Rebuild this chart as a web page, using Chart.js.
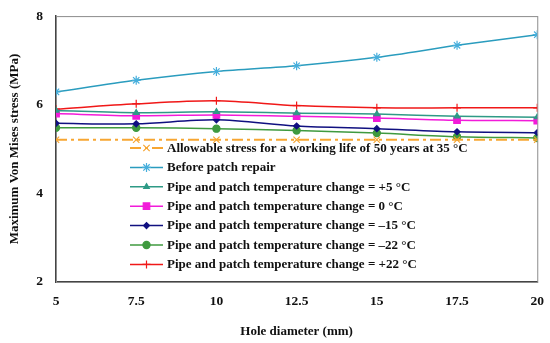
<!DOCTYPE html>
<html>
<head>
<meta charset="utf-8">
<script src="https://cdn.jsdelivr.net/npm/chart.js@4.4.1/dist/chart.umd.min.js"></script>
<style>
  html, body { margin: 0; padding: 0; background: #fff; }
  #wrap { width: 550px; height: 343px; }
</style>
</head>
<body>
<div id="wrap"><canvas id="chart"></canvas></div>
<script>
// hole diameters (mm)
const holeDiameters = [5, 7.5, 10, 12.5, 15, 17.5, 20];
const yTicks = [2, 4, 6, 8];

// max Von Mises stress (MPa)
const allowable   = [5.21, 5.21, 5.21, 5.21, 5.21, 5.21, 5.21];
const beforeRepair = [6.29, 6.55, 6.75, 6.88, 7.07, 7.34, 7.58];
const plus5      = [5.87, 5.82, 5.84, 5.81, 5.79, 5.74, 5.72];
const zero       = [5.80, 5.75, 5.77, 5.74, 5.70, 5.65, 5.64];
const minus15    = [5.58, 5.57, 5.66, 5.52, 5.46, 5.39, 5.37];
const minus22    = [5.48, 5.48, 5.46, 5.42, 5.36, 5.28, 5.25];
const plus22     = [5.90, 6.02, 6.09, 5.98, 5.93, 5.93, 5.93];

const FONT = '"Liberation Serif", "Times New Roman", serif';

function pts(arr) {
    return holeDiameters.map((x, i) => ({ x: x, y: arr[i] }));
}

function series(label, data, color, style, radius, extra) {
    return Object.assign({
        label: label,
        data: pts(data),
        borderColor: color,
        backgroundColor: color,
        borderWidth: 1.5,
        pointStyle: style,
        pointRadius: radius,
        pointBorderWidth: 1.2,
        tension: 0.3,
        fill: false
    }, extra || {});
}

const datasets = [
    series('Allowable stress for a working life of 50 years at 35 \u00b0C', allowable, '#F7A632', 'crossRot', 4.5,
        { borderDash: [11, 4, 3, 4], borderWidth: 2, tension: 0 }),
    series('Before patch repair', beforeRepair, '#2A9CBE', 'star', 4.5, { pointBorderColor: '#45AEDC' }),
    series('Pipe and patch temperature change = +5 \u00b0C', plus5, '#2E9A86', 'triangle', 3.2),
    series('Pipe and patch temperature change = 0 \u00b0C', zero, '#F21BD9', 'rect', 4.6),
    series('Pipe and patch temperature change = \u201315 \u00b0C', minus15, '#101080', 'rectRot', 3),
    series('Pipe and patch temperature change = \u201322 \u00b0C', minus22, '#3F9A3F', 'circle', 3.6),
    series('Pipe and patch temperature change = +22 \u00b0C', plus22, '#F01818', 'cross', 4)
];

// gray frame around the plot area
const frame = {
    id: 'frame',
    beforeDatasetsDraw(chart) {
        const a = chart.chartArea, ctx = chart.ctx;
        ctx.save();
        ctx.strokeStyle = '#8c8c8c';
        ctx.lineWidth = 1;
        ctx.strokeRect(a.left + 0.5, a.top + 0.5, a.right - a.left, a.bottom - a.top);
        ctx.restore();
    }
};

// legend drawn inside the plot, line sample + marker like the original
const innerLegend = {
    id: 'innerLegend',
    afterDraw(chart) {
        const ctx = chart.ctx;
        const x0 = 130, x1 = 163, top = 148, step = 19.4;
        ctx.save();
        chart.data.datasets.forEach((ds, i) => {
            const y = top + i * step;
            ctx.strokeStyle = ds.borderColor;
            ctx.lineWidth = ds.borderWidth;
            ctx.setLineDash(ds.borderDash || []);
            ctx.beginPath();
            ctx.moveTo(x0, y);
            ctx.lineTo(x1, y);
            ctx.stroke();
            ctx.setLineDash([]);
            ctx.fillStyle = ds.backgroundColor;
            ctx.strokeStyle = ds.pointBorderColor || ds.borderColor;
            ctx.lineWidth = ds.pointBorderWidth;
            Chart.helpers.drawPoint(ctx, { pointStyle: ds.pointStyle, radius: ds.pointRadius, borderWidth: ds.pointBorderWidth }, (x0 + x1) / 2, y);
            ctx.fillStyle = '#111';
            ctx.font = 'bold 13px ' + FONT;
            ctx.textBaseline = 'middle';
            ctx.fillText(ds.label, x1 + 4, y + 0.5);
        });
        ctx.restore();
    }
};

new Chart(document.getElementById('chart'), {
    type: 'line',
    data: { datasets: datasets },
    options: {
        responsive: true,
        maintainAspectRatio: false,
        animation: false,
        layout: { padding: { top: 8, right: 9, left: 3, bottom: 0 } },
        plugins: {
            legend: { display: false },
            tooltip: { enabled: false }
        },
        scales: {
            x: {
                type: 'linear',
                min: 5,
                max: 20,
                afterBuildTicks(axis) { axis.ticks = holeDiameters.map(v => ({ value: v })); },
                afterFit(axis) { axis.height = 61; },
                grid: { display: false, drawTicks: true, tickLength: 5, color: '#333' },
                border: { color: '#444', width: 1.5 },
                ticks: {
                    color: '#111',
                    padding: 6,
                    maxRotation: 0,
                    font: { family: FONT, size: 13.5, weight: 'bold' }
                },
                title: {
                    display: true,
                    text: 'Hole diameter (mm)',
                    color: '#111',
                    padding: { top: 18 },
                    font: { family: FONT, size: 13, weight: 'bold' }
                }
            },
            y: {
                min: 2,
                max: 8,
                afterBuildTicks(axis) { axis.ticks = yTicks.map(v => ({ value: v })); },
                afterFit(axis) { axis.width = 53; },
                grid: { display: false, tickLength: 5 },
                border: { color: '#444', width: 1.5 },
                ticks: {
                    color: '#111',
                    padding: 8,
                    font: { family: FONT, size: 13.5, weight: 'bold' }
                },
                title: {
                    display: true,
                    text: 'Maximum Von Mises stress (MPa)',
                    color: '#111',
                    padding: { bottom: 4 },
                    font: { family: FONT, size: 13, weight: 'bold' }
                }
            }
        }
    },
    plugins: [frame, innerLegend]
});
</script>
</body>
</html>
